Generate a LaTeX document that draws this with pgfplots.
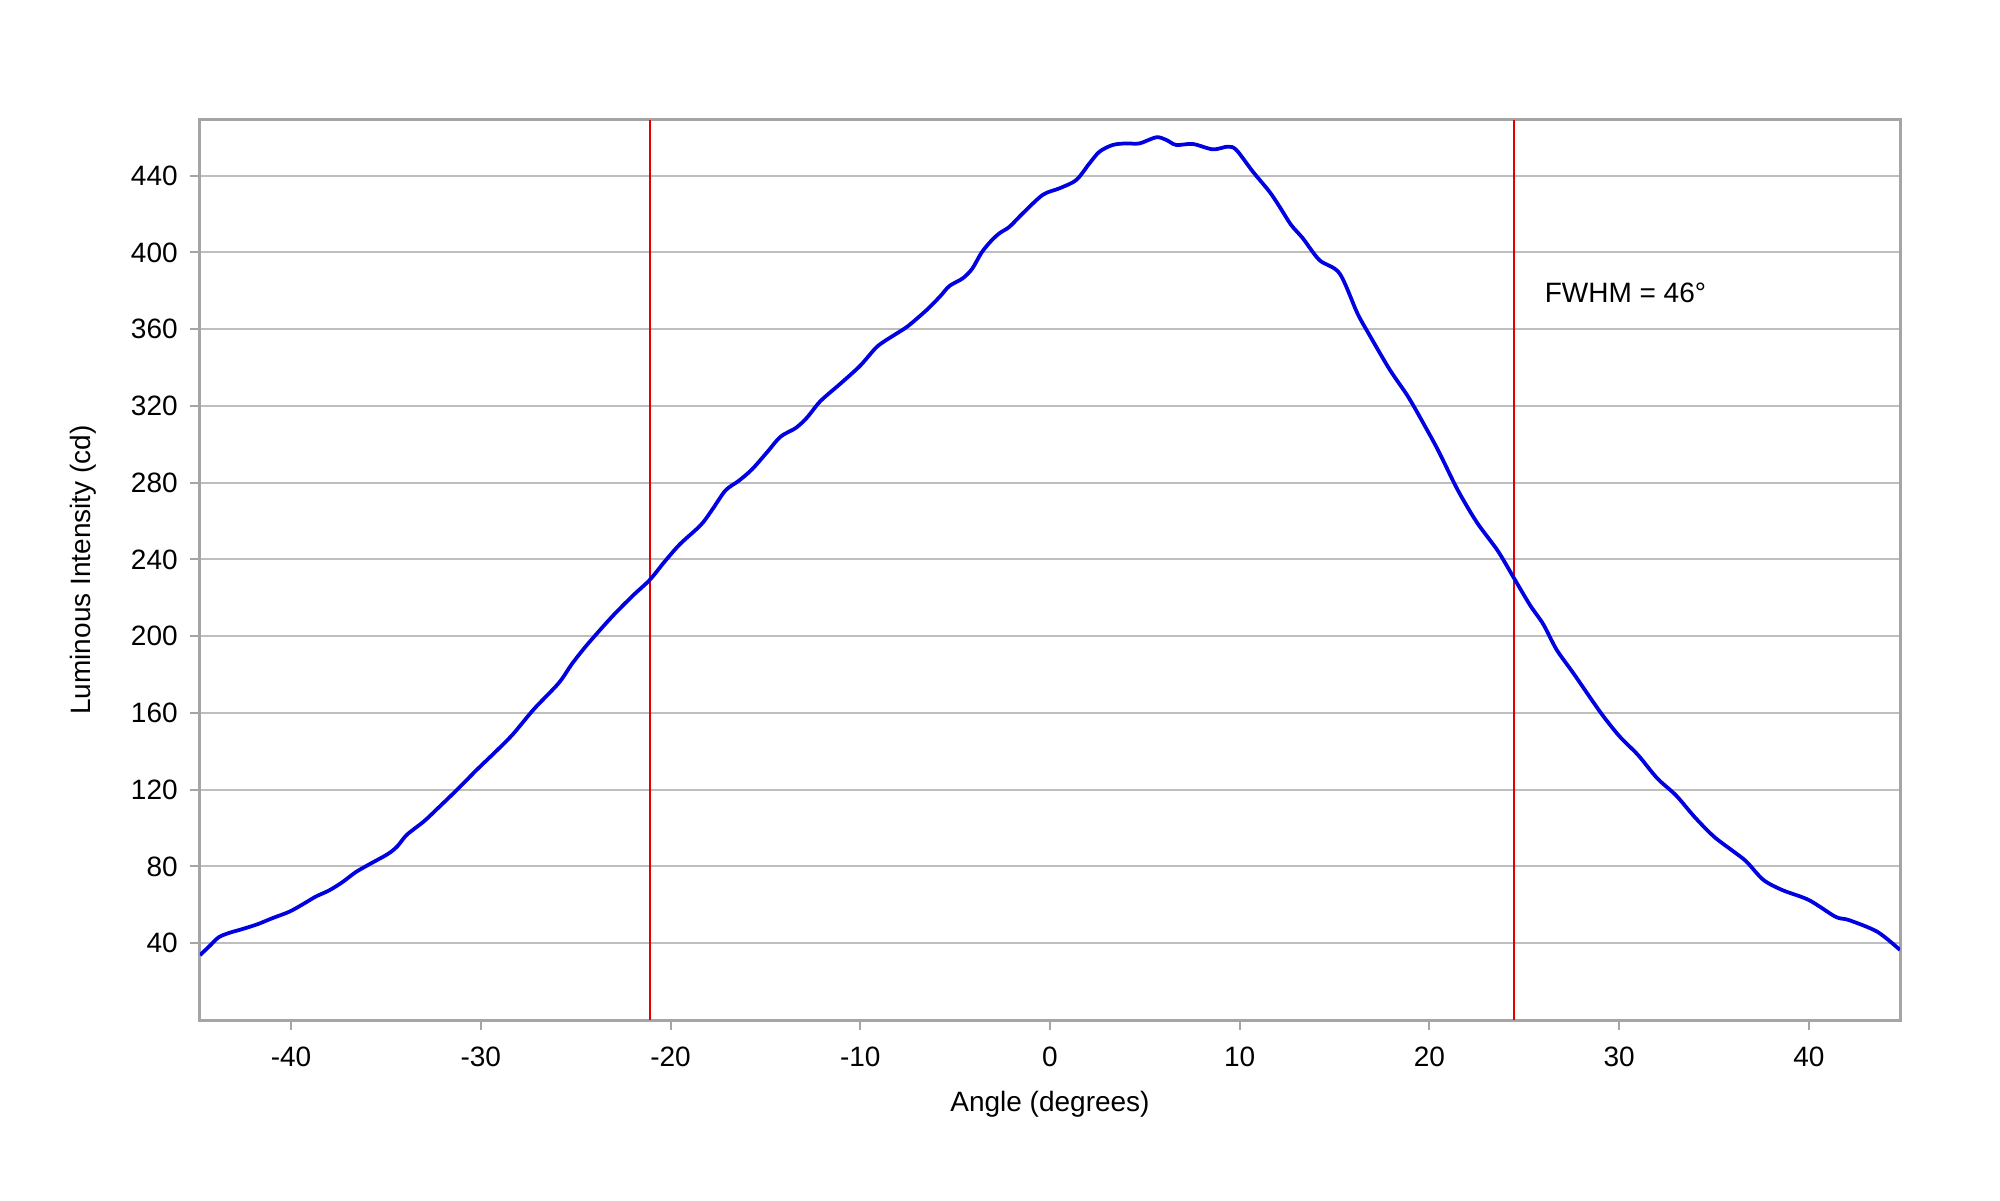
\documentclass[border=0pt]{standalone}
\usepackage{fontspec}
\setmainfont{Liberation Sans}
\usepackage{pgfplots}
\pgfplotsset{compat=1.18}
\definecolor{bordergray}{RGB}{165,165,165}
\definecolor{gridgray}{RGB}{190,190,190}
\definecolor{curveblue}{RGB}{0,0,225}
\definecolor{linered}{RGB}{228,0,0}
\begin{document}
\fontsize{11.2}{13}\selectfont
\begin{tikzpicture}
\useasboundingbox (-80pt,-72pt) rectangle (720pt,408pt);
\begin{axis}[
  scale only axis,
  width=680pt, height=360pt,
  xmin=-44.8, xmax=44.8, ymin=0, ymax=469,
  xtick={-40,-30,...,40},
  ytick={40,80,...,440},
  tick align=outside,
  major tick length=4pt,
  axis line style={bordergray, line width=1.2pt},
  every tick/.style={bordergray, line width=0.8pt},
  xtick pos=bottom, ytick pos=left,
  ymajorgrids,
  grid style={gridgray, line width=0.8pt},
  /pgf/number format/assume math mode=true,
  tick label style={font=\fontsize{11.2}{13}\selectfont},
  xticklabel style={yshift=-3pt},
  yticklabel style={xshift=-1pt},
  label style={font=\fontsize{11.2}{13}\selectfont},
  xlabel={Angle (degrees)},
  ylabel={Luminous Intensity (cd)},
  xlabel style={yshift=-2pt},
  ylabel style={yshift=6pt},
  clip=true,
]
\addplot[linered, line width=0.9pt] coordinates {(-21.1,0) (-21.1,469)};
\addplot[linered, line width=0.9pt] coordinates {(24.45,0) (24.45,469)};
\addplot[curveblue, line width=1.5pt, smooth, tension=0.5] coordinates {
(-44.8,33.8) (-44.3,38.5) (-43.8,43.2) (-43.2,45.6) (-42.7,47.0) (-41.8,49.8)
(-41.0,53.0) (-40.1,56.4) (-39.4,60.2) (-38.7,64.3) (-38.0,67.5) (-37.3,71.8)
(-36.6,77.0) (-35.9,81.0) (-34.9,86.5) (-34.4,90.5) (-33.9,96.5) (-33.0,103.5)
(-32.3,110.0) (-31.2,120.5) (-30.2,130.5) (-29.2,140.0) (-28.3,149.0) (-27.2,162.0)
(-25.9,175.5) (-25.2,185.5) (-24.4,195.5) (-23.1,210.0) (-22.0,221.0) (-21.1,229.3)
(-20.3,239.0) (-19.5,248.0) (-18.4,258.0) (-17.8,266.0) (-17.1,276.0) (-16.4,281.0)
(-15.7,287.0) (-14.9,296.0) (-14.2,304.0) (-13.4,308.5) (-12.8,314.0) (-12.1,322.5)
(-11.0,332.0) (-10.0,341.0) (-9.1,351.0) (-8.2,357.0) (-7.5,361.5) (-6.5,370.0)
(-5.8,377.0) (-5.3,382.5) (-4.6,386.5) (-4.1,391.5) (-3.6,400.0) (-3.1,406.0)
(-2.66,410.0) (-2.13,413.4) (-1.43,420.4) (-0.38,430.0) (0.5,433.4) (1.38,437.7)
(2.08,446.4) (2.61,452.5) (3.31,456.0) (4.02,456.8) (4.72,456.8) (5.6,460.0)
(6.13,458.6) (6.65,456.0) (7.53,456.5) (8.58,453.7) (9.37,455.1) (9.82,453.4)
(10.69,442.1) (11.57,431.6) (12.1,423.8) (12.71,414.3) (13.33,407.3) (14.2,396.0)
(15.26,389.1) (16.2,368.3) (16.8,357.6) (17.9,339.0) (18.9,324.4) (19.9,307.0)
(20.5,296.0) (21.5,276.0) (22.5,259.3) (23.6,244.5) (24.44,230.5) (25.3,216.2)
(26.0,206.2) (26.7,193.0) (27.6,180.5) (29.0,160.5) (30.0,148.0) (31.0,138.0)
(32.0,126.0) (33.0,117.0) (34.0,105.5) (35.0,95.5) (36.0,88.0) (36.7,82.6)
(37.6,73.0) (38.6,67.7) (40.0,62.5) (41.4,53.8) (42.1,52.1) (43.6,46.0)
(44.8,36.5)
};
\node[anchor=base west, inner sep=0pt, font=\fontsize{11.2}{13}\selectfont] at (axis cs:26.05,373.8) {FWHM = 46°};
\end{axis}
\end{tikzpicture}
\end{document}
